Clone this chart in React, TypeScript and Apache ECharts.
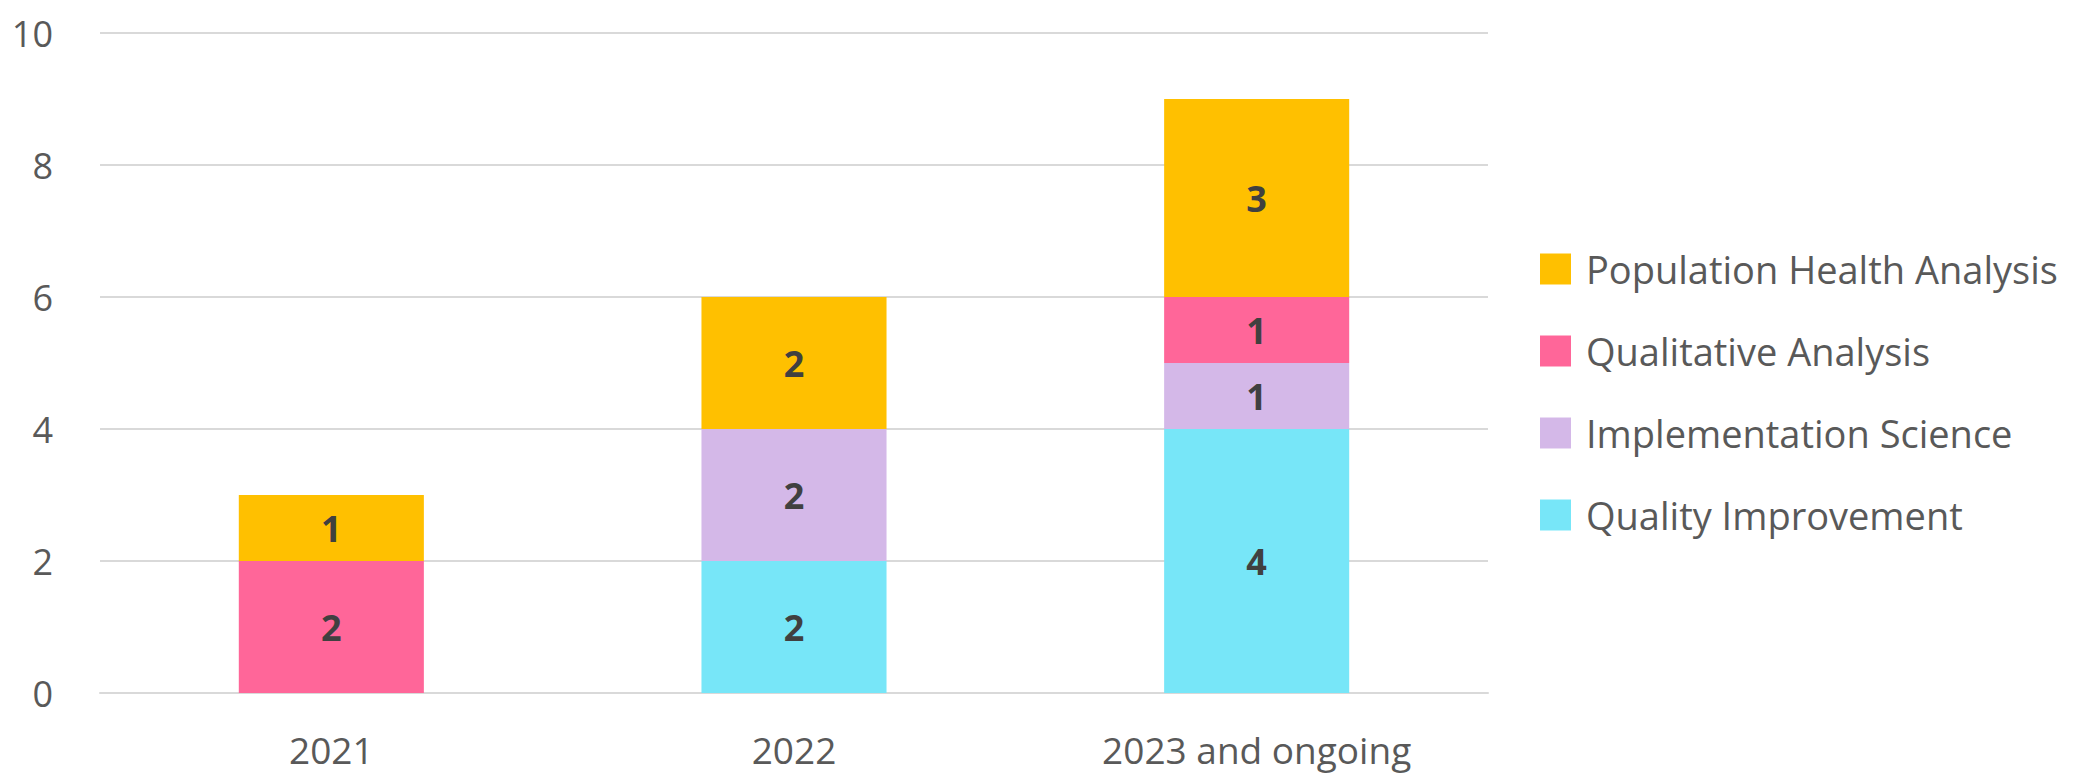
import React, { useEffect, useRef } from "react";
import * as echarts from "echarts";

const categories = ["2021", "2022", "2023 and ongoing"];
const seriesNames = [
  "Quality Improvement",
  "Implementation Science",
  "Qualitative Analysis",
  "Population Health Analysis",
];
const qualityImprovement = [null, 2, 4];
const implementationScience = [null, 2, 1];
const qualitativeAnalysis = [2, null, 1];
const populationHealth = [1, 2, 3];
const seriesColors = ["#77E6F8", "#D4B8E8", "#FF6699", "#FFC000"];
const legendOrder = [
  "Population Health Analysis",
  "Qualitative Analysis",
  "Implementation Science",
  "Quality Improvement",
];

const FONT = "'Open Sans', sans-serif";

export default function App() {
  const ref = useRef<HTMLDivElement>(null);
  useEffect(() => {
    document.body.style.margin = "0";
    const chart = echarts.init(ref.current!, null, { renderer: "svg" });
    const values = [qualityImprovement, implementationScience, qualitativeAnalysis, populationHealth];
    chart.setOption({
      animation: false,
      textStyle: { fontFamily: FONT },
      grid: { left: 100, right: 601, top: 33, bottom: 84, containLabel: false },
      legend: {
        orient: "vertical",
        left: 1535,
        top: 245,
        itemWidth: 31,
        itemHeight: 31,
        itemGap: 44,
        icon: "rect",
        data: legendOrder,
        textStyle: { fontSize: 38, color: "#595959", fontFamily: FONT, padding: [0, 0, 0, 10] },
      },
      xAxis: {
        type: "category",
        data: categories,
        axisTick: { show: false },
        axisLine: { show: true, lineStyle: { color: "#D9D9D9", width: 2 } },
        axisLabel: { fontSize: 37, color: "#595959", margin: 36, lineHeight: 40, fontFamily: FONT },
      },
      yAxis: {
        type: "value",
        min: 0,
        max: 10,
        interval: 2,
        axisLine: { show: false },
        axisTick: { show: false },
        splitLine: { lineStyle: { color: "#D9D9D9", width: 2 } },
        axisLabel: { fontSize: 36, color: "#595959", margin: 47, fontFamily: FONT },
      },
      series: seriesNames.map((name, i) => ({
        name,
        type: "bar",
        stack: "total",
        barWidth: "40%",
        data: values[i],
        itemStyle: { color: seriesColors[i] },
        label: {
          show: true,
          position: "inside",
          fontSize: 36,
          fontWeight: "bold",
          color: "#404040",
          fontFamily: FONT,
        },
      })),
    });
    return () => chart.dispose();
  }, []);
  return <div ref={ref} style={{ width: 2089, height: 777 }} />;
}
